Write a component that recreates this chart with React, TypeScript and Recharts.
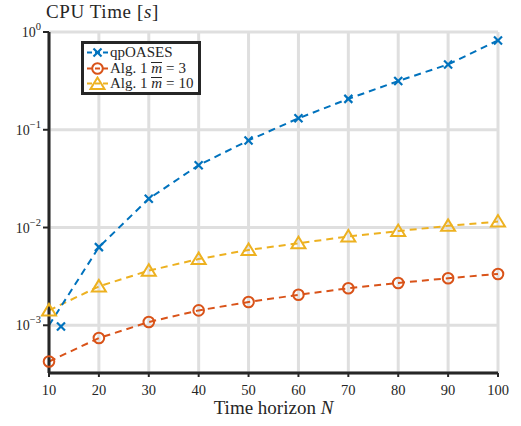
import React from 'react';
import { LineChart, Line, XAxis, YAxis, CartesianGrid, Legend } from 'recharts';

const horizons = [10, 20, 30, 40, 50, 60, 70, 80, 90, 100];
const qpOASES = [1.0e-3, 6.3e-3, 0.0197, 0.0434, 0.0778, 0.131, 0.207, 0.315, 0.466, 0.82];
const alg1m3 = [4.26e-4, 7.4e-4, 1.08e-3, 1.42e-3, 1.73e-3, 2.05e-3, 2.39e-3, 2.71e-3, 3.03e-3, 3.35e-3];
const alg1m10 = [1.42e-3, 2.5e-3, 3.62e-3, 4.76e-3, 5.9e-3, 6.9e-3, 8.1e-3, 9.2e-3, 0.0104, 0.0115];
const qpExtraN = [12.4];
const qpExtraV = [9.7e-4];
const xTicks = [10, 20, 30, 40, 50, 60, 70, 80, 90, 100];
const yTicks = [1e-3, 1e-2, 1e-1, 1];

const data = horizons.map((n, i) => ({ n, qp: qpOASES[i], a3: alg1m3[i], a10: alg1m10[i] }));
const extra = qpExtraN.map((n, i) => ({ n, qpx: qpExtraV[i] }));

const BLUE = '#0072BD';
const ORANGE = '#D95319';
const YELLOW = '#EDB120';
const AX = '#262626';
const GRID = '#dfdfdf';
const FONT = '"Liberation Serif", "DejaVu Serif", serif';

const XMark = ({ cx, cy, color }: any) => (
  <g>
    <line x1={cx - 4} y1={cy - 4} x2={cx + 4} y2={cy + 4} stroke={color} strokeWidth={2.2} />
    <line x1={cx - 4} y1={cy + 4} x2={cx + 4} y2={cy - 4} stroke={color} strokeWidth={2.2} />
  </g>
);
const CircleMark = ({ cx, cy, color }: any) => (
  <circle cx={cx} cy={cy} r={5.3} fill="none" stroke={color} strokeWidth={2} />
);
const TriMark = ({ cx, cy, color }: any) => (
  <polygon
    points={`${cx},${cy - 6.5} ${cx - 7},${cy + 5} ${cx + 7},${cy + 5}`}
    fill="none"
    stroke={color}
    strokeWidth={2}
    strokeLinejoin="miter"
  />
);

const qpDot = (p: any) => {
  if (p.payload && p.payload.n === 10) return <g key={`qp-${p.index}`} />;
  return <g key={`qp-${p.index}`}><XMark cx={p.cx} cy={p.cy} color={BLUE} /></g>;
};
const qpxDot = (p: any) => <g key={`qpx-${p.index}`}><XMark cx={p.cx} cy={p.cy} color={BLUE} /></g>;
const a3Dot = (p: any) => <g key={`a3-${p.index}`}><CircleMark cx={p.cx} cy={p.cy} color={ORANGE} /></g>;
const a10Dot = (p: any) => <g key={`a10-${p.index}`}><TriMark cx={p.cx} cy={p.cy} color={YELLOW} /></g>;

const YTick = (props: any) => {
  const { x, y, payload } = props;
  const e = Math.round(Math.log10(payload.value));
  const s = e < 0 ? `\u2212${-e}` : `${e}`;
  return (
    <text x={x} y={y} dy={5} textAnchor="end" fontFamily={FONT} fontSize={14} fill={AX}>
      <tspan>10</tspan>
      <tspan dy={-7} fontSize={10.5}>{s}</tspan>
    </text>
  );
};

const XTick = (props: any) => {
  const { x, y, payload } = props;
  return (
    <text x={x} y={y} dy={10} textAnchor="middle" fontFamily={FONT} fontSize={14.5} fill={AX}>
      {payload.value}
    </text>
  );
};

const TitleLabel = (props: any) => {
  const vb = props.viewBox || { x: 0, y: 32 };
  return (
    <text x={46} y={vb.y - 14} fontFamily={FONT} fontSize={19} fill={AX} letterSpacing={0.6}>
      CPU Time [<tspan fontStyle="italic">s</tspan>]
    </text>
  );
};

const XLabel = (props: any) => {
  const vb = props.viewBox || { x: 49, y: 373, width: 449 };
  return (
    <text x={vb.x + vb.width / 2} y={vb.y + 41} textAnchor="middle" fontFamily={FONT} fontSize={19} fill={AX}>
      Time horizon <tspan fontStyle="italic">N</tspan>
    </text>
  );
};

const legendItems = [
  { label: 'qpOASES', color: BLUE, kind: 'x', m: '' },
  { label: 'Alg. 1 ', color: ORANGE, kind: 'o', m: '3' },
  { label: 'Alg. 1 ', color: YELLOW, kind: '^', m: '10' },
];

const renderLegend = () => (
  <div
    style={{
      border: `3px solid ${AX}`,
      background: '#fff',
      width: 114,
      height: 47,
      fontFamily: FONT,
      fontSize: 15,
      color: AX,
      paddingTop: 1,
      boxSizing: 'content-box',
    }}
  >
    {legendItems.map((it, i) => (
      <div key={i} style={{ display: 'flex', alignItems: 'center', height: 15.5, lineHeight: '15px' }}>
        <svg width={26} height={15} style={{ display: 'block' }}>
          <line x1={3} y1={7.5} x2={24} y2={7.5} stroke={it.color} strokeWidth={2} strokeDasharray="5 3" />
          {it.kind === 'x' && <XMark cx={13.5} cy={7.5} color={it.color} />}
          {it.kind === 'o' && <CircleMark cx={13.5} cy={7.5} color={it.color} />}
          {it.kind === '^' && <TriMark cx={13.5} cy={8} color={it.color} />}
        </svg>
        <span style={{ whiteSpace: 'nowrap' }}>
          {it.label}
          {it.m && (
            <>
              <span
                style={{
                  display: 'inline-block',
                  fontStyle: 'italic',
                  borderTop: `1px solid ${AX}`,
                  lineHeight: '10px',
                }}
              >
                m
              </span>
              <span style={{ margin: '0 4px' }}>=</span>
              {it.m}
            </>
          )}
        </span>
      </div>
    ))}
  </div>
);

export default function App() {
  return (
    <div style={{ position: 'absolute', left: 0, top: 0, width: 521, height: 426, background: '#fff' }}>
      <LineChart width={521} height={426} data={data} margin={{ top: 32, right: 23, bottom: 0, left: 0 }}>
        <CartesianGrid stroke={GRID} strokeWidth={3} />
        <XAxis
          dataKey="n"
          type="number"
          domain={[10, 100]}
          ticks={xTicks}
          height={53}
          axisLine={{ stroke: AX, strokeWidth: 3 }}
          tickLine={{ stroke: AX, strokeWidth: 2 }}
          tickSize={4}
          tickMargin={8}
          tick={<XTick />}
          label={{ content: <XLabel /> } as any}
          interval={0}
        />
        <YAxis
          type="number"
          scale="log"
          domain={[3.25e-4, 1]}
          ticks={yTicks}
          width={49}
          axisLine={{ stroke: AX, strokeWidth: 3 }}
          tickLine={{ stroke: AX, strokeWidth: 2 }}
          tickSize={6}
          tickMargin={2}
          tick={<YTick />}
          label={{ content: <TitleLabel /> } as any}
          interval={0}
        />
        <Legend
          layout="vertical"
          align="center"
          verticalAlign="middle"
          content={renderLegend}
          wrapperStyle={{ position: 'absolute', left: 81, top: 41, width: 120, height: 53 }}
        />
        <Line dataKey="a3" stroke={ORANGE} strokeWidth={2} strokeDasharray="7 5" dot={a3Dot} isAnimationActive={false} />
        <Line dataKey="a10" stroke={YELLOW} strokeWidth={2} strokeDasharray="7 5" dot={a10Dot} isAnimationActive={false} />
        <Line dataKey="qp" stroke={BLUE} strokeWidth={2} strokeDasharray="7 5" dot={qpDot} isAnimationActive={false} />
        <Line data={extra} dataKey="qpx" stroke="none" dot={qpxDot} isAnimationActive={false} legendType="none" />
      </LineChart>
    </div>
  );
}
